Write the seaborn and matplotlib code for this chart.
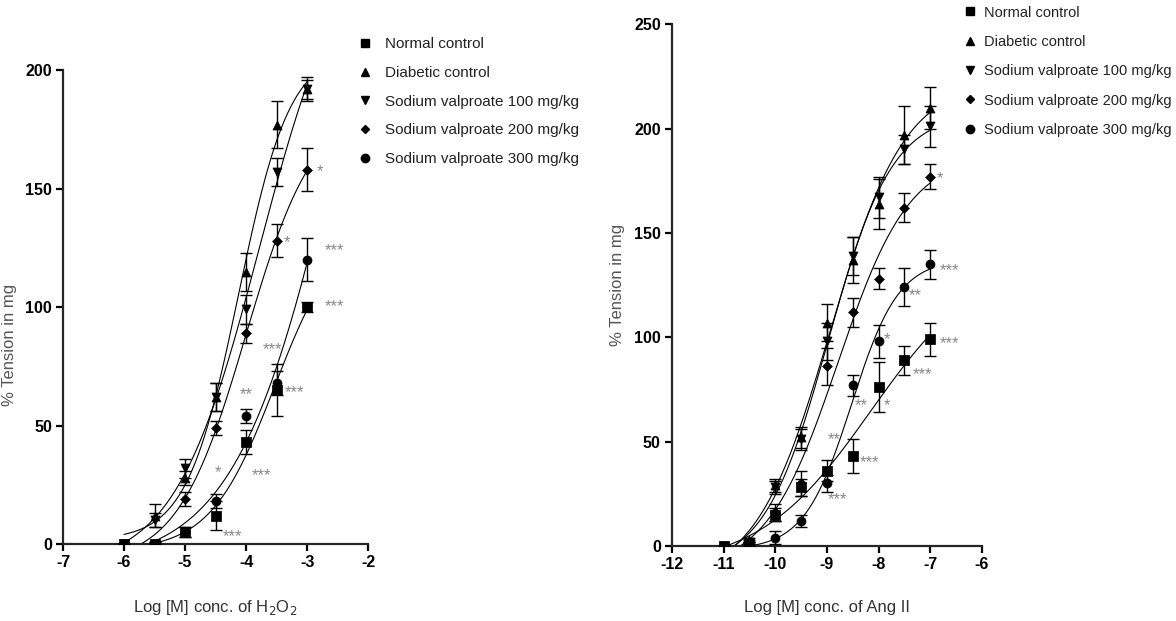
import numpy as np
import pandas as pd
import matplotlib
matplotlib.use('Agg')
import matplotlib.pyplot as plt
import seaborn as sns
from matplotlib.lines import Line2D

groups = ['Normal control', 'Diabetic control', 'Sodium valproate 100 mg/kg',
          'Sodium valproate 200 mg/kg', 'Sodium valproate 300 mg/kg']
markers = ['s', '^', 'v', 'D', 'o']

# ---------------- H2O2 panel ----------------
h2o2_logc = [-6, -5.5, -5, -4.5, -4, -3.5, -3]
h2o2_normal = [0, 0, 5, 12, 43, 65, 100]
h2o2_diabetic = [0, 12, 28, 62, 115, 177, 192]
h2o2_sv100 = [0, 10, 32, 62, 99, 157, 192]
h2o2_sv200 = [0, 0, 19, 49, 89, 128, 158]
h2o2_sv300 = [0, 0, 5, 18, 54, 68, 120]
h2o2_normal_err = [0, 0, 2, 6, 5, 11, 2]
h2o2_diabetic_err = [0, 5, 3, 6, 8, 10, 5]
h2o2_sv100_err = [0, 3, 4, 6, 6, 6, 4]
h2o2_sv200_err = [0, 1, 3, 3, 4, 7, 9]
h2o2_sv300_err = [0, 1, 2, 3, 3, 5, 9]

# ---------------- Ang II panel ----------------
ang_logc = [-11, -10.5, -10, -9.5, -9, -8.5, -8, -7.5, -7]
ang_normal = [0, 1, 15, 28, 36, 43, 76, 89, 99]
ang_diabetic = [0, 3, 29, 52, 107, 137, 164, 197, 210]
ang_sv100 = [0, 2, 28, 51, 98, 139, 167, 190, 201]
ang_sv200 = [0, 1, 16, 30, 86, 112, 128, 162, 177]
ang_sv300 = [0, 0, 4, 12, 30, 77, 98, 124, 135]
ang_normal_err = [0, 1, 3, 4, 5, 8, 12, 7, 8]
ang_diabetic_err = [0, 1, 3, 5, 9, 11, 12, 14, 10]
ang_sv100_err = [0, 1, 3, 5, 9, 9, 10, 7, 10]
ang_sv200_err = [0, 1, 4, 6, 9, 7, 5, 7, 6]
ang_sv300_err = [0, 1, 3, 3, 4, 5, 8, 9, 7]

# significance stars: (x, y, text)
h2o2_stars = [(-2.79, 157, '*'), (-3.33, 127, '*'), (-2.55, 124, '***'),
              (-2.55, 100, '***'), (-3.57, 82, '***'), (-4.0, 63, '**'),
              (-3.2, 64, '***'), (-4.46, 30, '*'), (-3.74, 29, '***'),
              (-4.23, 3, '***')]
ang_stars = [(-6.82, 176, '*'), (-6.62, 132, '***'), (-7.3, 120, '**'),
             (-7.84, 99, '*'), (-6.62, 97, '***'), (-7.15, 82, '***'),
             (-8.33, 67, '**'), (-7.84, 67, '*'), (-8.85, 51, '**'),
             (-8.17, 40, '***'), (-8.79, 22, '***')]


def fit_4pl(x, y):
    # crude least-squares 4PL fit: grid over logEC50/hill, linear solve for bottom/top
    x = np.asarray(x, float)
    y = np.asarray(y, float)
    best = None
    for ec in np.linspace(x.min(), x.max() + 2, 161):
        for h in np.linspace(0.3, 3.0, 109):
            f = 1.0 / (1.0 + 10 ** ((ec - x) * h))
            A = np.column_stack([1 - f, f])
            coef, *_ = np.linalg.lstsq(A, y, rcond=None)
            r = np.sum((A @ coef - y) ** 2)
            if best is None or r < best[0]:
                best = (r, coef[0], coef[1], ec, h)
    _, bot, top, ec, h = best
    xs = np.linspace(x.min(), x.max(), 200)
    return xs, bot + (top - bot) / (1.0 + 10 ** ((ec - xs) * h))


sns.set_theme(style='ticks')
plt.rcParams['font.family'] = ['Liberation Sans', 'DejaVu Sans']
plt.rcParams['axes.unicode_minus'] = False

fig = plt.figure(figsize=(11.76, 6.21), dpi=100)
ax1 = fig.add_axes([0.0536, 0.124, 0.2594, 0.763])
ax2 = fig.add_axes([0.5714, 0.121, 0.2636, 0.840])

panels = [
    (ax1, h2o2_logc,
     [h2o2_normal, h2o2_diabetic, h2o2_sv100, h2o2_sv200, h2o2_sv300],
     [h2o2_normal_err, h2o2_diabetic_err, h2o2_sv100_err, h2o2_sv200_err, h2o2_sv300_err],
     h2o2_stars, (-7, -2), (0, 200), 'Log [M] conc. of H$_2$O$_2$'),
    (ax2, ang_logc,
     [ang_normal, ang_diabetic, ang_sv100, ang_sv200, ang_sv300],
     [ang_normal_err, ang_diabetic_err, ang_sv100_err, ang_sv200_err, ang_sv300_err],
     ang_stars, (-12, -6), (0, 250), 'Log [M] conc. of Ang II'),
]

for ax, xs, series, errs, stars, xlim, ylim, xlabel in panels:
    for name, m, ys, es in zip(groups, markers, series, errs):
        cx, cy = fit_4pl(xs, ys)
        sns.lineplot(x=cx, y=cy, ax=ax, color='black', lw=0.8, zorder=2)
        ax.errorbar(xs, ys, yerr=es, fmt='none', ecolor='black', elinewidth=1.0,
                    capsize=4, capthick=1.0, zorder=3)
        sns.scatterplot(x=xs, y=ys, ax=ax, marker=m, color='black',
                        s=42 if m != 'D' else 26, edgecolor='black', zorder=4)
    for sx, sy, st in stars:
        ax.text(sx, sy, st, ha='center', va='center', color='#888888', fontsize=12)
    ax.set_xlim(xlim)
    ax.set_ylim(ylim)
    ax.set_xticks(np.arange(xlim[0], xlim[1] + 1, 1))
    ax.set_yticks(np.arange(ylim[0], ylim[1] + 1, 50))
    ax.spines['top'].set_visible(False)
    ax.spines['right'].set_visible(False)
    ax.spines['left'].set_linewidth(1.6)
    ax.spines['bottom'].set_linewidth(1.6)
    ax.tick_params(width=1.6, length=5, direction='out', pad=3, colors='black')
    for lab in ax.get_xticklabels() + ax.get_yticklabels():
        lab.set_fontweight('bold')
        lab.set_fontsize(11.5)
    ax.set_ylabel('% Tension in mg', fontsize=12, color='#555555')
    ax.set_xlabel(xlabel, fontsize=12, color='#333333', labelpad=20)

ax1.yaxis.set_label_coords(-0.15, 0.42)
ax2.yaxis.set_label_coords(-0.15, 0.5)

handles = [Line2D([], [], ls='none', marker=m, color='black',
                  markersize=6 if m != 'D' else 4.5) for m in markers]
fig.legend(handles, groups, loc='upper left', bbox_to_anchor=(0.305, 0.94),
           frameon=False, prop={'size': 11}, labelcolor='#222222',
           handlelength=0.8, handletextpad=0.9, labelspacing=0.96,
           borderaxespad=0, borderpad=0)
fig.legend(handles, groups, loc='upper left', bbox_to_anchor=(0.8196, 0.991),
           frameon=False, prop={'size': 10.5}, labelcolor='#222222',
           handlelength=0.8, handletextpad=0.55, labelspacing=1.05,
           borderaxespad=0, borderpad=0)

fig.savefig('out.png', dpi=100)
